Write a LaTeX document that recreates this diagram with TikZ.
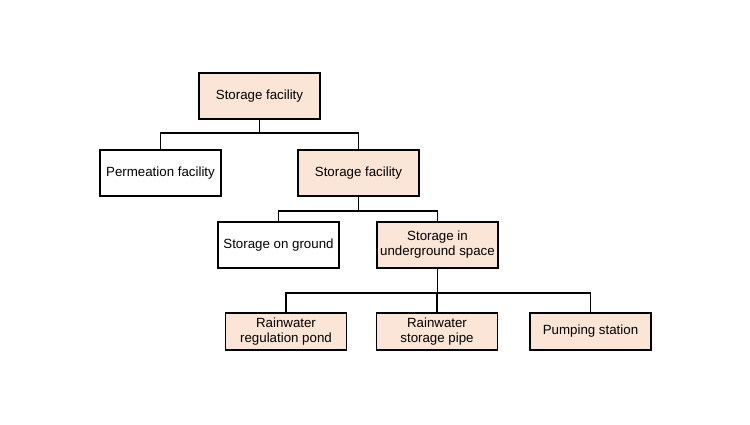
\documentclass[tikz,border=0pt]{standalone}
\usepackage{fontspec}
\setmainfont{Liberation Sans}
\definecolor{peach}{HTML}{FBE5D6}
\begin{document}
\begin{tikzpicture}[x=1pt,y=-1pt,
  box/.style={draw=black,line width=1.5pt,minimum width=121pt,minimum height=46pt,inner sep=2pt,align=center,font=\fontsize{13.3}{15}\selectfont},
  sbox/.style={box,minimum height=37pt},
  hl/.style={fill=peach},
  wl/.style={fill=white},
  conn/.style={draw=black,line width=1.5pt}]
\useasboundingbox (0,0) rectangle (750,424);
\node[box,hl] (top) at (259.5,96) {Storage facility};
\node[box,wl] (perm) at (160.5,173) {Permeation facility};
\node[box,hl] (stor) at (358.5,173) {Storage facility};
\node[box,wl] (ground) at (278.5,245) {Storage on ground};
\node[box,hl] (under) at (437.5,245) {Storage in\\underground space};
\node[sbox,hl] (pond) at (286,331.5) {Rainwater\\regulation pond};
\node[sbox,hl] (pipe) at (437,331.5) {Rainwater\\storage pipe};
\node[sbox,hl] (pump) at (590.5,331.5) {Pumping station};
\coordinate (j1) at (259.5,133);
\coordinate (j2) at (358.5,211);
\coordinate (j3) at (437.5,293);
\draw[conn] (top.south) -- (j1);
\draw[conn] (j1) -| (perm.north);
\draw[conn] (j1) -| (stor.north);
\draw[conn] (stor.south) -- (j2);
\draw[conn] (j2) -| (ground.north);
\draw[conn] (j2) -| (under.north);
\draw[conn] (under.south) -- (j3);
\draw[conn] (j3) -| (pond.north);
\draw[conn] (j3) -| (pipe.north);
\draw[conn] (j3) -| (pump.north);
\end{tikzpicture}
\end{document}
